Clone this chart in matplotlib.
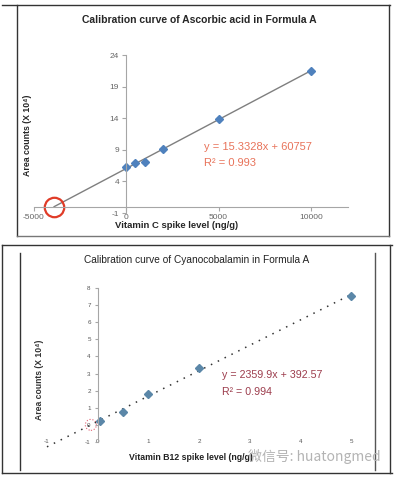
import numpy as np
import matplotlib
matplotlib.use("Agg")
import matplotlib.pyplot as plt
from matplotlib.lines import Line2D
from matplotlib.patches import Ellipse

plt.rcParams['font.family'] = ['Liberation Sans', 'DejaVu Sans']
plt.rcParams['axes.unicode_minus'] = False

# Vitamin C (ascorbic acid), area counts in units of 10^4
vc_spike = [0, 500, 1000, 2000, 5000, 10000]
vc_area = [6.3, 6.9, 7.1, 9.1, 13.9, 21.5]
vc_xticks = [-5000, 0, 5000, 10000]
vc_yticks = [-1, 4, 9, 14, 19, 24]
vc_eq = "y = 15.3328x + 60757"
vc_r2 = "R\u00b2 = 0.993"

# Vitamin B12 (cyanocobalamin)
b12_spike = [0.05, 0.5, 1, 2, 5]
b12_area = [0.23, 0.76, 1.81, 3.33, 7.54]
b12_xticks = [-1, 0, 1, 2, 3, 4, 5]
b12_yticks = [-1, 0, 1, 2, 3, 4, 5, 6, 7, 8]
b12_eq = "y = 2359.9x + 392.57"
b12_r2 = "R\u00b2 = 0.994"

W, H = 394, 479
fig = plt.figure(figsize=(W / 100, H / 100), dpi=100)


def fx(x):
    return x / W


def fy(y):
    return 1 - y / H


def frame(x0, y0, x1, y1, color="#333333", lw=1.0):
    fig.add_artist(Line2D([fx(x0), fx(x1)], [fy(y0), fy(y1)], color=color, lw=lw))


# panel borders (screenshot frames)
frame(2, 5, 390, 5)
frame(17, 5, 17, 236)
frame(389, 5, 389, 236)
frame(17, 236, 389, 236, color="#777777")
frame(2, 245, 392, 245)
frame(2, 245, 2, 473)
frame(390, 245, 390, 473)
frame(2, 473, 392, 473)
frame(20, 253, 20, 470)
frame(375, 253, 375, 470, color="#555555")

# ---------------- top chart ----------------
ax1 = fig.add_axes([fx(33.5), fy(213), (348 - 33.5) / W, (213 - 55) / H])
ax1.set_xlim(-5000, 12000)
ax1.set_ylim(-1, 24)
for s in ["top", "right"]:
    ax1.spines[s].set_visible(False)
ax1.spines["left"].set_position(("data", 0))
ax1.spines["bottom"].set_position(("data", 0))
ax1.spines["left"].set_color("#a6a6a6")
ax1.spines["bottom"].set_color("#a6a6a6")
ax1.set_xticks(vc_xticks)
ax1.set_yticks(vc_yticks)
ax1.set_xticklabels([str(v) for v in vc_xticks])
ax1.tick_params(axis="both", labelsize=6, labelcolor="#666666", color="#a6a6a6", length=3, width=0.8)
ax1.tick_params(axis="x", pad=2)
ax1.tick_params(axis="y", pad=2)
ax1.set_facecolor("none")

fit1 = np.polyfit(vc_spike, vc_area, 1)
x0_1 = -fit1[1] / fit1[0]
xs1 = np.array([x0_1, max(vc_spike)])
ax1.plot(xs1, np.polyval(fit1, xs1), color="#7f7f7f", lw=1)
ax1.plot(vc_spike, vc_area, "D", ms=3.8, color="#4f81bd")
ax1.plot([x0_1], [0], "o", ms=14, mfc="none", mec="#e03c28", mew=1.6, clip_on=False)

fig.text(fx(199), fy(20), "Calibration curve of Ascorbic acid in Formula A",
         ha="center", va="center", fontsize=7.5, fontweight="bold", color="#262626")
fig.text(fx(28), fy(135), "Area counts (X 10\u2074)", rotation=90,
         ha="center", va="center", fontsize=6.3, fontweight="bold", color="#262626")
fig.text(fx(177), fy(225), "Vitamin C spike level (ng/g)",
         ha="center", va="center", fontsize=6.8, fontweight="bold", color="#262626")
fig.text(fx(204), fy(147), vc_eq, ha="left", va="center", fontsize=8, color="#e8735a")
fig.text(fx(204), fy(163), vc_r2, ha="left", va="center", fontsize=8, color="#e8735a")

# ---------------- bottom chart ----------------
ax2 = fig.add_axes([fx(41.9), fy(448.8), (361.1 - 41.9) / W, (448.8 - 284.6) / H])
ax2.set_xlim(-1.1, 5.2)
ax2.set_ylim(-1.4, 8.2)
for s in ["top", "right"]:
    ax2.spines[s].set_visible(False)
ax2.spines["left"].set_position(("data", 0))
ax2.spines["left"].set_bounds(-1, 8)
ax2.spines["left"].set_color("#a6a6a6")
ax2.spines["bottom"].set_position(("data", -1))
ax2.spines["bottom"].set_visible(False)
ax2.set_xticks(b12_xticks)
ax2.set_yticks(b12_yticks)
ax2.tick_params(axis="y", labelsize=4.5, labelcolor="#555555", color="#a6a6a6", length=2, pad=3)
ax2.tick_params(axis="x", labelsize=4.5, labelcolor="#555555", length=0, pad=-2)
ax2.set_facecolor("none")

fit2 = np.polyfit(b12_spike, b12_area, 1)
x0_2 = -fit2[1] / fit2[0]
xs2 = np.array([b12_xticks[0], b12_xticks[-1]])
ax2.plot(xs2, np.polyval(fit2, xs2), color="#333333", lw=1.1, ls=(0, (1, 4)), clip_on=False)
ax2.plot(b12_spike, b12_area, "D", ms=4, color="#5b87a8")
ax2.add_patch(Ellipse((x0_2, 0), 0.22, 0.64, fill=False, ec="#e06070", lw=0.8, ls=":"))

fig.text(fx(197), fy(260), "Calibration curve of Cyanocobalamin in Formula A",
         ha="center", va="center", fontsize=7.3, color="#222222")
fig.text(fx(39), fy(380), "Area counts (X 10\u2074)", rotation=90,
         ha="center", va="center", fontsize=6.2, fontweight="bold", color="#333333")
fig.text(fx(129), fy(458), "Vitamin B12 spike level (ng/g)",
         ha="left", va="center", fontsize=6.3, fontweight="bold", color="#222222")
fig.text(fx(222), fy(375), b12_eq, ha="left", va="center", fontsize=7.7, color="#9c3c4c")
fig.text(fx(222), fy(392), b12_r2, ha="left", va="center", fontsize=7.7, color="#9c3c4c")

# watermark
fig.text(fx(248), fy(457), "\u5fae\u4fe1\u53f7: huatongmed", ha="left", va="center",
         fontsize=10, color="#b4b4b4", family=["Noto Sans CJK SC", "DejaVu Sans"])

fig.savefig("out.png", dpi=100)
